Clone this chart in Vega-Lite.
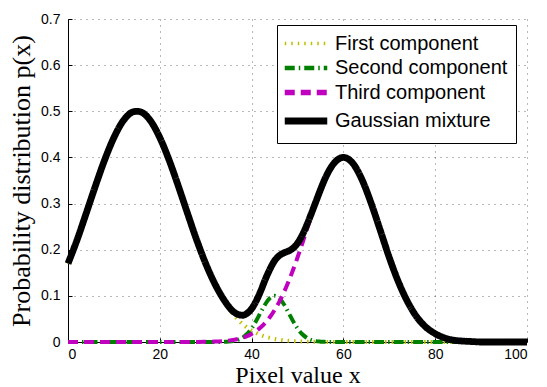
{
  "$schema": "https://vega.github.io/schema/vega-lite/v6.json",
  "width": 459,
  "height": 323,
  "autosize": {"type": "none"},
  "padding": {"left": 68, "top": 19, "right": 20, "bottom": 45},
  "background": "white",
  "data": {
    "values": [
      {"x": 0, "first": 0.1695, "second": 0, "third": 0, "mixture": 0.170},
      {"x": 2, "first": 0.2219, "second": 0, "third": 0, "mixture": 0.222},
      {"x": 4, "first": 0.2795, "second": 0, "third": 0, "mixture": 0.280},
      {"x": 6, "first": 0.3387, "second": 0, "third": 0, "mixture": 0.339},
      {"x": 8, "first": 0.3951, "second": 0, "third": 0, "mixture": 0.395},
      {"x": 10, "first": 0.4434, "second": 0, "third": 0, "mixture": 0.443},
      {"x": 12, "first": 0.4788, "second": 0, "third": 0, "mixture": 0.479},
      {"x": 14, "first": 0.4976, "second": 0, "third": 0, "mixture": 0.498},
      {"x": 15, "first": 0.5, "second": 0, "third": 0, "mixture": 0.500},
      {"x": 16, "first": 0.4976, "second": 0, "third": 0, "mixture": 0.498},
      {"x": 18, "first": 0.4788, "second": 0, "third": 0, "mixture": 0.479},
      {"x": 20, "first": 0.4434, "second": 0, "third": 0, "mixture": 0.443},
      {"x": 22, "first": 0.3951, "second": 0, "third": 0, "mixture": 0.395},
      {"x": 24, "first": 0.3387, "second": 0, "third": 0, "mixture": 0.339},
      {"x": 26, "first": 0.2795, "second": 0, "third": 0, "mixture": 0.280},
      {"x": 28, "first": 0.2219, "second": 0, "third": 0.0001, "mixture": 0.222},
      {"x": 30, "first": 0.1695, "second": 0, "third": 0.0004, "mixture": 0.170},
      {"x": 32, "first": 0.1246, "second": 0, "third": 0.0009, "mixture": 0.126},
      {"x": 34, "first": 0.0882, "second": 0.0003, "third": 0.0020, "mixture": 0.091},
      {"x": 35, "first": 0.0731, "second": 0.0008, "third": 0.0030, "mixture": 0.077},
      {"x": 36, "first": 0.0600, "second": 0.0019, "third": 0.0044, "mixture": 0.066},
      {"x": 37, "first": 0.0488, "second": 0.0044, "third": 0.0064, "mixture": 0.060},
      {"x": 38, "first": 0.0393, "second": 0.0092, "third": 0.0091, "mixture": 0.058},
      {"x": 39, "first": 0.0314, "second": 0.0173, "third": 0.0128, "mixture": 0.062},
      {"x": 40, "first": 0.0248, "second": 0.0295, "third": 0.0176, "mixture": 0.072},
      {"x": 41, "first": 0.0194, "second": 0.0458, "third": 0.0238, "mixture": 0.089},
      {"x": 42, "first": 0.0150, "second": 0.0645, "third": 0.0318, "mixture": 0.111},
      {"x": 43, "first": 0.0115, "second": 0.0823, "third": 0.0418, "mixture": 0.136},
      {"x": 44, "first": 0.0088, "second": 0.0952, "third": 0.0541, "mixture": 0.158},
      {"x": 45, "first": 0.0066, "second": 0.1000, "third": 0.0690, "mixture": 0.176},
      {"x": 46, "first": 0.0049, "second": 0.0952, "third": 0.0865, "mixture": 0.187},
      {"x": 47, "first": 0.0036, "second": 0.0823, "third": 0.1068, "mixture": 0.193},
      {"x": 48, "first": 0.0027, "second": 0.0645, "third": 0.1299, "mixture": 0.197},
      {"x": 49, "first": 0.0019, "second": 0.0458, "third": 0.1554, "mixture": 0.203},
      {"x": 50, "first": 0.0014, "second": 0.0295, "third": 0.1831, "mixture": 0.214},
      {"x": 51, "first": 0.0010, "second": 0.0173, "third": 0.2124, "mixture": 0.231},
      {"x": 52, "first": 0.0007, "second": 0.0092, "third": 0.2426, "mixture": 0.253},
      {"x": 53, "first": 0.0005, "second": 0.0044, "third": 0.2728, "mixture": 0.278},
      {"x": 54, "first": 0.0003, "second": 0.0019, "third": 0.3019, "mixture": 0.304},
      {"x": 55, "first": 0.0002, "second": 0.0008, "third": 0.3290, "mixture": 0.330},
      {"x": 56, "first": 0.0002, "second": 0.0003, "third": 0.3530, "mixture": 0.354},
      {"x": 58, "first": 0, "second": 0, "third": 0.3877, "mixture": 0.388},
      {"x": 60, "first": 0, "second": 0, "third": 0.4000, "mixture": 0.400},
      {"x": 62, "first": 0, "second": 0, "third": 0.3877, "mixture": 0.388},
      {"x": 64, "first": 0, "second": 0, "third": 0.3530, "mixture": 0.353},
      {"x": 66, "first": 0, "second": 0, "third": 0.3019, "mixture": 0.302},
      {"x": 68, "first": 0, "second": 0, "third": 0.2426, "mixture": 0.243},
      {"x": 70, "first": 0, "second": 0, "third": 0.1831, "mixture": 0.183},
      {"x": 72, "first": 0, "second": 0, "third": 0.1299, "mixture": 0.130},
      {"x": 74, "first": 0, "second": 0, "third": 0.0865, "mixture": 0.087},
      {"x": 76, "first": 0, "second": 0, "third": 0.0541, "mixture": 0.054},
      {"x": 78, "first": 0, "second": 0, "third": 0.0318, "mixture": 0.032},
      {"x": 80, "first": 0, "second": 0, "third": 0.0176, "mixture": 0.018},
      {"x": 82, "first": 0, "second": 0, "third": 0.0091, "mixture": 0.009},
      {"x": 84, "first": 0, "second": 0, "third": 0.0044, "mixture": 0.004},
      {"x": 86, "first": 0, "second": 0, "third": 0.0020, "mixture": 0.002},
      {"x": 88, "first": 0, "second": 0, "third": 0.0009, "mixture": 0.001},
      {"x": 90, "first": 0, "second": 0, "third": 0.0004, "mixture": 0},
      {"x": 92, "first": 0, "second": 0, "third": 0.0001, "mixture": 0},
      {"x": 94, "first": 0, "second": 0, "third": 0, "mixture": 0},
      {"x": 96, "first": 0, "second": 0, "third": 0, "mixture": 0},
      {"x": 98, "first": 0, "second": 0, "third": 0, "mixture": 0},
      {"x": 100, "first": 0, "second": 0, "third": 0, "mixture": 0}
    ]
  },
  "transform": [
    {"fold": ["first", "second", "third", "mixture"], "as": ["series", "y"]}
  ],
  "encoding": {
    "x": {
      "field": "x", "type": "quantitative",
      "scale": {"domain": [0, 100], "nice": false},
      "axis": {"values": [0, 20, 40, 60, 80, 100], "title": "Pixel value x", "titleFontSize": 24, "titleBaseline": "alphabetic", "titleY": 40, "tickSize": -4, "labelPadding": 9}
    },
    "y": {
      "field": "y", "type": "quantitative",
      "scale": {"domain": [0, 0.7], "nice": false},
      "axis": {"values": [0, 0.1, 0.2, 0.3, 0.4, 0.5, 0.6, 0.7], "format": ".1~f", "title": "Probability distribution p(x)", "titlePadding": 6, "tickSize": -4, "labelPadding": 12}
    },
    "color": {
      "field": "series", "type": "nominal",
      "scale": {"domain": ["first", "second", "third", "mixture"], "range": ["#bfbf00", "#008000", "#bf00bf", "#000000"]},
      "legend": {"title": null, "labelExpr": "{'first': 'First component', 'second': 'Second component', 'third': 'Third component', 'mixture': 'Gaussian mixture'}[datum.label]"}
    },
    "strokeDash": {
      "field": "series", "type": "nominal",
      "scale": {"domain": ["first", "second", "third", "mixture"], "range": [[1.5, 5], [10, 4, 1.5, 4], [10, 6], [1, 0]]},
      "legend": {"title": null, "labelExpr": "{'first': 'First component', 'second': 'Second component', 'third': 'Third component', 'mixture': 'Gaussian mixture'}[datum.label]"}
    }
  },
  "layer": [
    {"transform": [{"filter": "datum.series == 'first'"}], "mark": {"type": "line", "interpolate": "monotone", "clip": false, "strokeWidth": 4}},
    {"transform": [{"filter": "datum.series == 'second'"}], "mark": {"type": "line", "interpolate": "monotone", "clip": false, "strokeWidth": 4}},
    {"transform": [{"filter": "datum.series == 'third'"}], "mark": {"type": "line", "interpolate": "monotone", "clip": false, "strokeWidth": 4}},
    {
      "transform": [{"filter": "datum.series == 'mixture'"}],
      "mark": {"type": "line", "interpolate": "monotone", "clip": false, "strokeJoin": "round"},
      "encoding": {
        "strokeWidth": {
          "field": "series", "type": "nominal",
          "scale": {"domain": ["first", "second", "third", "mixture"], "range": [3.4, 6.8]},
          "legend": {"title": null, "labelExpr": "{'first': 'First component', 'second': 'Second component', 'third': 'Third component', 'mixture': 'Gaussian mixture'}[datum.label]"}
        }
      }
    }
  ],
  "config": {
    "view": {"stroke": null},
    "axis": {
      "labelFont": "Liberation Sans", "labelFontSize": 14, "labelColor": "#000",
      "titleFont": "Liberation Serif", "titleFontSize": 26, "titleFontWeight": "normal", "titleColor": "#000",
      "domainColor": "#000", "domainWidth": 1, "tickColor": "#000",
      "grid": true, "gridColor": "#000", "gridDash": [1, 5], "gridOpacity": 0.55, "gridWidth": 1
    },
    "legend": {
      "orient": "none", "legendX": 209, "legendY": 6,
      "strokeColor": "#000", "fillColor": "#fff", "padding": 8,
      "symbolType": "M-2.5,0H2.5", "symbolSize": 289, "symbolOpacity": 1, "symbolOffset": 9,
      "labelFont": "Liberation Sans", "labelFontSize": 20, "labelColor": "#000", "labelOffset": 17,
      "labelLimit": 400, "rowPadding": 3
    }
  }
}
